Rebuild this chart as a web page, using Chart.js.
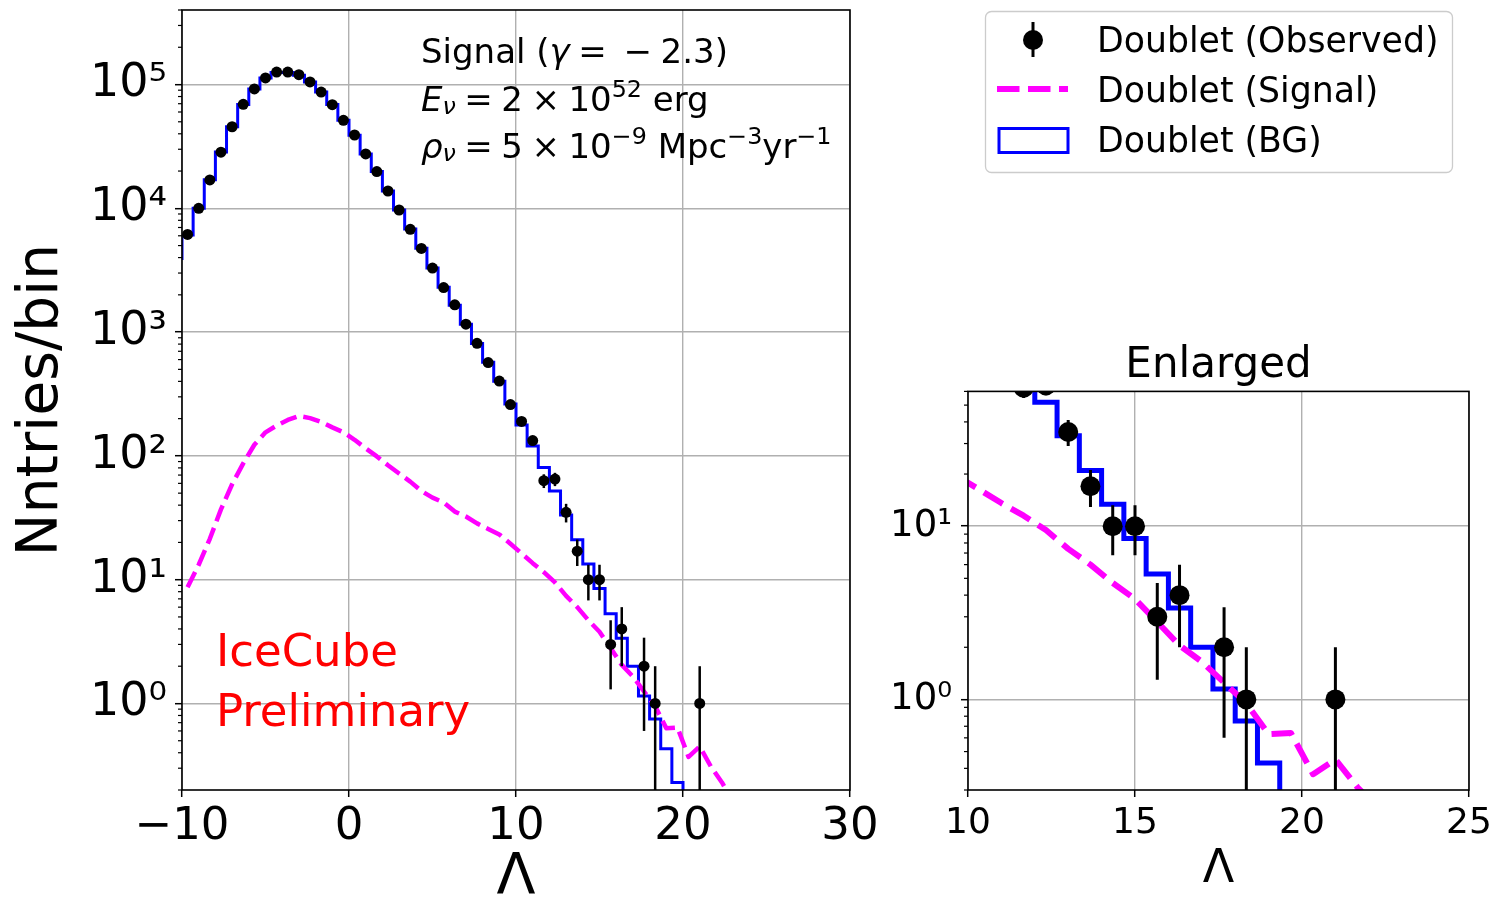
<!DOCTYPE html>
<html>
<head>
<meta charset="utf-8">
<script src="https://cdn.jsdelivr.net/npm/chart.js@4.4.1/dist/chart.umd.min.js"></script>
<style>
  html, body { margin: 0; padding: 0; background: #fff; }
  #wrap { position: relative; width: 1494px; height: 906px; }
  canvas { position: absolute; left: 0; top: 0; }
</style>
</head>
<body>
<div id="wrap">
  <canvas id="main" width="1494" height="906"></canvas>
  <canvas id="zoom" width="1494" height="906"></canvas>
</div>
<script>
// bin centres of the Lambda histogram (bins are 2/3 wide, first one lies left of -10)
const lambdaBins = [-10.333, -9.667, -9, -8.333, -7.667, -7, -6.333, -5.667, -5, -4.333,
  -3.667, -3, -2.333, -1.667, -1, -0.333, 0.333, 1, 1.667, 2.333,
  3, 3.667, 4.333, 5, 5.667, 6.333, 7, 7.667, 8.333, 9,
  9.667, 10.333, 11, 11.667, 12.333, 13, 13.667, 14.333, 15, 15.667,
  16.333, 17, 17.667, 18.333, 19, 19.667, 20.333, 21, 21.667, 22.333, 23];

// doublet counts per bin (0 = empty bin, not drawn)
const observed = [0, 6150, 10000, 16960, 28400, 45600, 69200, 92200, 113000, 126000,
  126000, 120000, 105000, 87000, 68800, 51400, 39100, 27500, 19800, 13800,
  9690, 6760, 4740, 3290, 2290, 1660, 1160, 812, 568, 402,
  260, 190, 133, 63, 65, 35, 17, 10, 10, 3,
  4, 0, 2, 1, 0, 0, 0, 1, 0, 0, 0];

const obsErr = [0, 78, 100, 130, 169, 214, 263, 304, 336, 355,
  355, 346, 324, 295, 262, 227, 198, 166, 141, 117,
  98, 82, 69, 57, 48, 41, 34, 28.5, 24, 20,
  16, 14, 11.5, 8, 8, 6, 4.1, 3.2, 3.2, 1.7,
  2, 0, 1.4, 1, 0, 0, 0, 1, 0, 0, 0];

// background expectation (step histogram)
const background = [3940, 6100, 10000, 17000, 28500, 45500, 69000, 92000, 113000, 125000,
  125000, 119000, 105000, 87000, 69000, 51500, 39000, 27500, 19800, 13800,
  9700, 6800, 4750, 3300, 2300, 1650, 1160, 810, 570, 400,
  262, 178, 120, 80.5, 52, 33.3, 21, 13.4, 8.5, 5.3,
  3.37, 2.0, 1.15, 0.75, 0.43, 0.23, 0.05, null, null, null, null];

// signal expectation
const signal = [null, 8.7, 13.2, 21.4, 37, 59, 87, 123, 155, 176,
  195, 210, 202, 188, 170, 155, 135, 115, 99, 84,
  72, 62, 52, 46, 42, 35.5, 32.4, 28.5, 25.7, 23.2,
  19.5, 16.3, 13.6, 11.5, 9.5, 7.4, 6.0, 4.7, 3.8, 2.8,
  2.05, 1.65, 1.25, 0.95, 0.63, 0.64, 0.37, 0.45, 0.31, 0.23, 0.16];

const mainXTicks = [-10, 0, 10, 20, 30];
const mainXLabels = ['\u221210', '0', '10', '20', '30'];
const mainYTicks = [1, 10, 100, 1000, 10000, 100000];
const mainYLabels = ['10\u2070', '10\u00b9', '10\u00b2', '10\u00b3', '10\u2074', '10\u2075'];
const zoomXTicks = [10, 15, 20, 25];
const zoomXLabels = ['10', '15', '20', '25'];
const zoomYTicks = [1, 10];
const zoomYLabels = ['10\u2070', '10\u00b9'];
const legendLabels = ['Doublet (Observed)', 'Doublet (Signal)', 'Doublet (BG)'];

const FONT = 'DejaVu Sans';

function pts(values) {
  return lambdaBins.map((x, i) => ({ x: x, y: values[i] > 0 ? values[i] : null }));
}

const errorBars = {
  id: 'errorBars',
  afterDatasetsDraw(chart, args, opts) {
    const { ctx, chartArea: a, scales: { x, y } } = chart;
    ctx.save();
    ctx.beginPath();
    ctx.rect(a.left, a.top, a.right - a.left, a.bottom - a.top);
    ctx.clip();
    ctx.strokeStyle = '#000';
    ctx.lineWidth = opts.width;
    observed.forEach((n, i) => {
      if (!(n > 0) || !obsErr[i]) return;
      const px = x.getPixelForValue(lambdaBins[i]);
      const lo = n - obsErr[i];
      const y1 = y.getPixelForValue(n + obsErr[i]);
      const y2 = lo > 0 ? y.getPixelForValue(lo) : a.bottom + 20;
      ctx.beginPath();
      ctx.moveTo(px, y1);
      ctx.lineTo(px, y2);
      ctx.stroke();
    });
    ctx.restore();
  }
};

// minor log ticks + the four spines
const axesFrame = {
  id: 'axesFrame',
  afterDraw(chart) {
    const { ctx, chartArea: a, scales: { y } } = chart;
    ctx.save();
    ctx.strokeStyle = '#000';
    ctx.lineWidth = 1.2;
    for (let e = Math.floor(Math.log10(y.min)); e <= Math.ceil(Math.log10(y.max)); e++) {
      for (let m = 2; m <= 9; m++) {
        const v = m * Math.pow(10, e);
        if (v < y.min || v > y.max) continue;
        const py = y.getPixelForValue(v);
        ctx.beginPath();
        ctx.moveTo(a.left - 4, py);
        ctx.lineTo(a.left, py);
        ctx.stroke();
      }
    }
    ctx.lineWidth = 1.6;
    ctx.strokeRect(a.left, a.top, a.right - a.left, a.bottom - a.top);
    ctx.restore();
  }
};

// mathtext-ish line: runs of text, {sp} = extra gap in em
function drawRuns(ctx, x, y, runs, size) {
  let cx = x;
  runs.forEach(r => {
    if (r.sp) { cx += r.sp * size; return; }
    const s = (r.sup || r.sub) ? size * 0.7 : size;
    ctx.font = (r.it ? 'italic ' : '') + s + 'px "' + FONT + '"';
    const dy = r.sup ? -size * 0.4 : r.sub ? size * 0.1 : 0;
    ctx.fillText(r.t, cx, y + dy);
    cx += ctx.measureText(r.t).width;
  });
}

const annotations = {
  id: 'annotations',
  afterDraw(chart) {
    const ctx = chart.ctx;
    const g = { sp: 0.25 };
    ctx.save();
    ctx.fillStyle = '#000';
    ctx.textBaseline = 'alphabetic';
    ctx.textAlign = 'left';
    drawRuns(ctx, 421, 63, [{ t: 'Signal (' }, { t: '\u03b3', it: true }, g, { t: '=' }, g, g,
      { t: '\u2212' }, g, { t: '2.3)' }], 34);
    drawRuns(ctx, 421, 111, [{ t: 'E', it: true }, { t: '\u03bd', it: true, sub: true }, g,
      { t: '=' }, g, { t: '2' }, g, { t: '\u00d7' }, g, { t: '10' }, { t: '52', sup: true }, { t: ' erg' }], 34);
    drawRuns(ctx, 421, 158, [{ t: '\u03c1', it: true }, { t: '\u03bd', it: true, sub: true }, g,
      { t: '=' }, g, { t: '5' }, g, { t: '\u00d7' }, g, { t: '10' }, { t: '\u22129', sup: true },
      { t: ' Mpc' }, { t: '\u22123', sup: true }, { t: 'yr' }, { t: '\u22121', sup: true }], 34);
    ctx.fillStyle = '#ff0000';
    ctx.font = '45px "' + FONT + '"';
    ctx.fillText('IceCube', 216, 666);
    ctx.fillText('Preliminary', 216, 726);
    ctx.restore();
  }
};

const legendBox = {
  id: 'legendBox',
  afterDraw(chart) {
    const ctx = chart.ctx;
    ctx.save();
    ctx.beginPath();
    ctx.roundRect(985.5, 11.5, 467, 161, 6);
    ctx.fillStyle = 'rgba(255,255,255,0.8)';
    ctx.fill();
    ctx.strokeStyle = '#cccccc';
    ctx.lineWidth = 1.3;
    ctx.stroke();
    // observed marker
    ctx.strokeStyle = '#000';
    ctx.lineWidth = 3;
    ctx.beginPath(); ctx.moveTo(1033, 22); ctx.lineTo(1033, 57); ctx.stroke();
    ctx.fillStyle = '#000';
    ctx.beginPath(); ctx.arc(1033, 40, 10, 0, Math.PI * 2); ctx.fill();
    // signal line
    ctx.strokeStyle = '#ff00ff';
    ctx.lineWidth = 6;
    ctx.setLineDash([22.5, 8.5]);
    ctx.beginPath(); ctx.moveTo(997, 89); ctx.lineTo(1068, 89); ctx.stroke();
    ctx.setLineDash([]);
    // bg patch
    ctx.strokeStyle = '#0000ff';
    ctx.lineWidth = 3;
    ctx.strokeRect(999, 128.5, 69, 24);
    ctx.fillStyle = '#000';
    ctx.font = '34.7px "' + FONT + '"';
    ctx.textBaseline = 'alphabetic';
    legendLabels.forEach((t, i) => ctx.fillText(t, 1097, 52 + i * 50));
    ctx.restore();
  }
};

function makePanel(id, cfg) {
  return new Chart(document.getElementById(id), {
    type: 'line',
    data: {
      datasets: [
        { label: legendLabels[0], data: pts(observed), showLine: false, pointRadius: cfg.dot,
          pointHoverRadius: cfg.dot, pointBackgroundColor: '#000', pointBorderWidth: 0, clip: 0 },
        { label: legendLabels[1], data: pts(signal), borderColor: '#ff00ff', borderWidth: cfg.sigW,
          borderDash: cfg.dash, borderJoinStyle: 'round', pointRadius: 0, clip: 0 },
        { label: legendLabels[2], data: pts(background), borderColor: '#0000ff', borderWidth: cfg.bgW,
          stepped: 'middle', pointRadius: 0, clip: 0 }
      ]
    },
    options: {
      responsive: false,
      animation: false,
      events: [],
      layout: { padding: cfg.padding },
      plugins: {
        legend: { display: false },
        tooltip: { enabled: false },
        title: cfg.title,
        errorBars: { width: cfg.errW }
      },
      scales: {
        x: {
          type: 'linear', min: cfg.xMin, max: cfg.xMax,
          afterBuildTicks: ax => { ax.ticks = cfg.xTicks.map(v => ({ value: v })); },
          afterFit: ax => { ax.height = 116; ax.paddingLeft = 0; ax.paddingRight = 0; },
          ticks: { callback: (v, i) => cfg.xLabels[i], color: '#000', autoSkip: false, maxRotation: 0,
            padding: cfg.xPad, font: { family: FONT, size: cfg.xTickSize } },
          grid: { color: '#b0b0b0', lineWidth: 1.4, tickColor: '#000', tickLength: 7, tickWidth: 1.5 },
          border: { display: false },
          title: cfg.xTitle
        },
        y: {
          type: 'logarithmic', min: cfg.yMin, max: cfg.yMax,
          afterBuildTicks: ax => { ax.ticks = cfg.yTicks.map(v => ({ value: v, major: true })); },
          afterFit: ax => { ax.width = cfg.yWidth; ax.paddingTop = 0; ax.paddingBottom = 0; },
          ticks: { callback: (v, i) => cfg.yLabels[i], color: '#000', autoSkip: false,
            padding: cfg.yPad, font: { family: FONT, size: cfg.yTickSize } },
          grid: { color: '#b0b0b0', lineWidth: 1.4, tickColor: '#000', tickLength: 7, tickWidth: 1.5 },
          border: { display: false },
          title: cfg.yTitle
        }
      }
    },
    plugins: cfg.plugins
  });
}

makePanel('main', {
  padding: { left: 0, top: 10, right: 644, bottom: 0 },
  xMin: -10, xMax: 30, yMin: 0.2, yMax: 4e5,
  xTicks: mainXTicks, xLabels: mainXLabels, yTicks: mainYTicks, yLabels: mainYLabels,
  xTickSize: 45, yTickSize: 46, xPad: 3, yPad: 8, yWidth: 182,
  dot: 5.5, sigW: 4.5, dash: [17, 7], bgW: 3, errW: 2.5,
  title: { display: false },
  xTitle: { display: true, text: '\u039b', color: '#000', padding: { top: 0, bottom: 0 },
    font: { family: FONT, size: 57, lineHeight: 0.95 } },
  yTitle: { display: true, text: 'Nntries/bin', color: '#000', padding: { top: 8, bottom: 0 },
    font: { family: FONT, size: 57, lineHeight: 1.2 } },
  plugins: [errorBars, axesFrame, annotations]
});

makePanel('zoom', {
  padding: { left: 868, top: 341, right: 25, bottom: 0 },
  xMin: 10, xMax: 25, yMin: 0.3, yMax: 60,
  xTicks: zoomXTicks, xLabels: zoomXLabels, yTicks: zoomYTicks, yLabels: zoomYLabels,
  xTickSize: 36, yTickSize: 37, xPad: 5, yPad: 9, yWidth: 100,
  dot: 10, sigW: 6, dash: [22, 9.6], bgW: 5, errW: 3,
  title: { display: true, text: 'Enlarged', fullSize: false, color: '#000', padding: 0,
    font: { family: FONT, size: 42, weight: 'normal', lineHeight: 1.2 } },
  xTitle: { display: true, text: '\u039b', color: '#000', padding: { top: 0, bottom: 8 },
    font: { family: FONT, size: 46, lineHeight: 1.2 } },
  yTitle: { display: false },
  plugins: [errorBars, axesFrame, legendBox]
});
</script>
</body>
</html>
